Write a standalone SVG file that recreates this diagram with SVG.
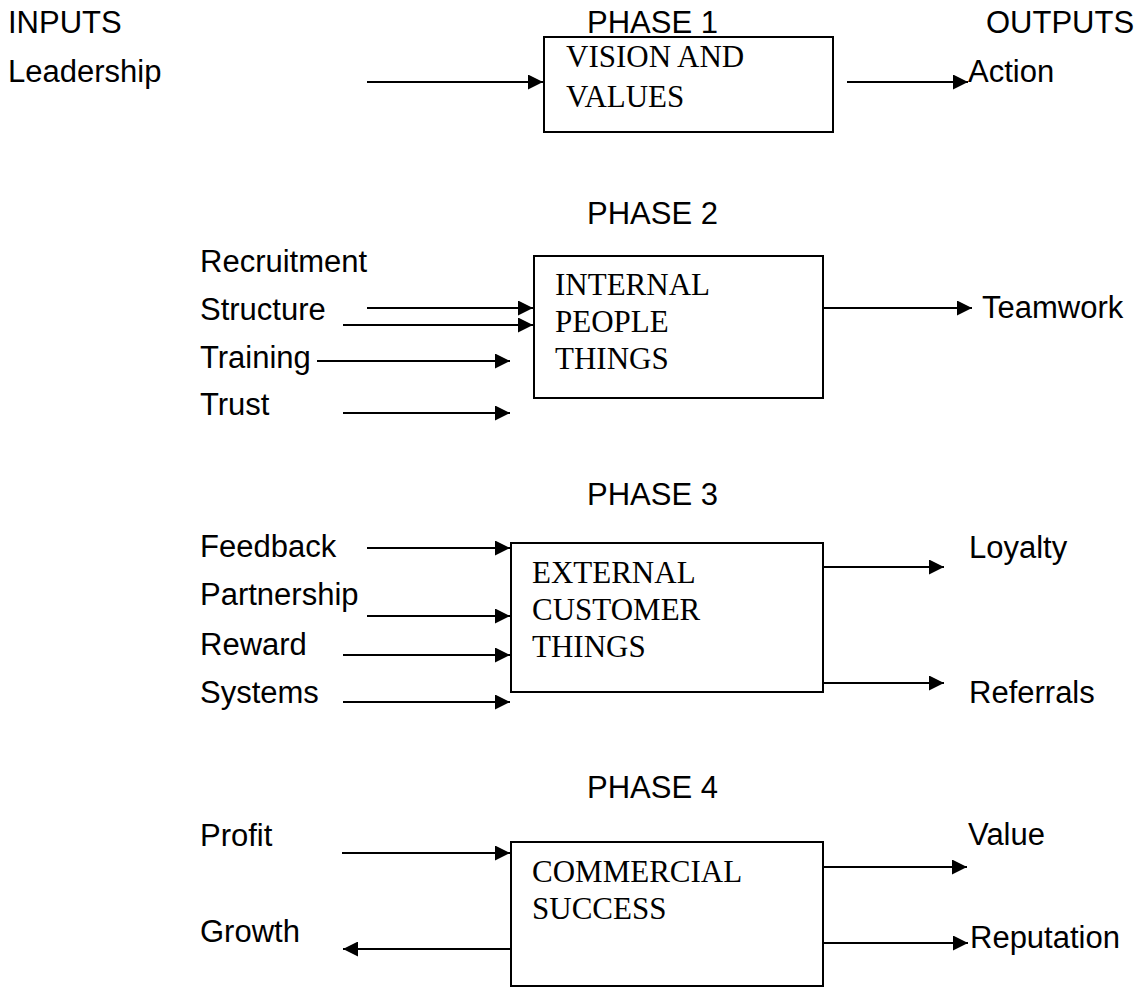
<svg xmlns="http://www.w3.org/2000/svg" width="1139" height="988" viewBox="0 0 1139 988">
  <defs>
    <marker id="arrow" markerUnits="userSpaceOnUse" markerWidth="16" markerHeight="15" refX="15" refY="7.5" orient="auto">
      <path d="M0,0 L15,7.5 L0,15 Z" fill="#000"/>
    </marker>
    <style>
      .lbl { font-family: "Liberation Sans", Arial, sans-serif; font-size: 31px; fill: #000; }
      .box { fill: #fff; stroke: #000; stroke-width: 2; }
      .boxtxt { font-family: "Liberation Serif", "Times New Roman", serif; font-size: 31px; fill: #000; }
      .conn line { stroke: #000; stroke-width: 2; marker-end: url(#arrow); }
    </style>
  </defs>
  <rect width="1139" height="988" fill="#fff"/>

  <!-- column headings -->
  <g id="headings">
    <text class="lbl" x="8" y="33">INPUTS</text>
    <text class="lbl" x="587" y="33">PHASE 1</text>
    <text class="lbl" x="986" y="33">OUTPUTS</text>
    <text class="lbl" x="587" y="224">PHASE 2</text>
    <text class="lbl" x="587" y="505">PHASE 3</text>
    <text class="lbl" x="587" y="798">PHASE 4</text>
  </g>

  <!-- phase 1 -->
  <g id="leadership"><text class="lbl" x="8" y="82">Leadership</text></g>
  <g id="vision-values">
    <rect class="box" x="544" y="37" width="289" height="95"/>
    <text class="boxtxt" x="566" y="67">VISION AND</text>
    <text class="boxtxt" x="566" y="107">VALUES</text>
  </g>
  <g id="action"><text class="lbl" x="968" y="82">Action</text></g>

  <!-- phase 2 -->
  <g id="recruitment"><text class="lbl" x="200" y="272">Recruitment</text></g>
  <g id="structure"><text class="lbl" x="200" y="320">Structure</text></g>
  <g id="training"><text class="lbl" x="200" y="368">Training</text></g>
  <g id="trust"><text class="lbl" x="200" y="415">Trust</text></g>
  <g id="internal-people">
    <rect class="box" x="534" y="256" width="289" height="142"/>
    <text class="boxtxt" x="555" y="295">INTERNAL</text>
    <text class="boxtxt" x="555" y="332">PEOPLE</text>
    <text class="boxtxt" x="555" y="369">THINGS</text>
  </g>
  <g id="teamwork"><text class="lbl" x="982" y="318">Teamwork</text></g>

  <!-- phase 3 -->
  <g id="feedback"><text class="lbl" x="200" y="557">Feedback</text></g>
  <g id="partnership"><text class="lbl" x="200" y="605">Partnership</text></g>
  <g id="reward"><text class="lbl" x="200" y="655">Reward</text></g>
  <g id="systems"><text class="lbl" x="200" y="703">Systems</text></g>
  <g id="external-customer">
    <rect class="box" x="511" y="543" width="312" height="149"/>
    <text class="boxtxt" x="532" y="583">EXTERNAL</text>
    <text class="boxtxt" x="532" y="620">CUSTOMER</text>
    <text class="boxtxt" x="532" y="657">THINGS</text>
  </g>
  <g id="loyalty"><text class="lbl" x="969" y="558">Loyalty</text></g>
  <g id="referrals"><text class="lbl" x="969" y="703">Referrals</text></g>

  <!-- phase 4 -->
  <g id="profit"><text class="lbl" x="200" y="846">Profit</text></g>
  <g id="growth"><text class="lbl" x="200" y="942">Growth</text></g>
  <g id="commercial-success">
    <rect class="box" x="511" y="842" width="312" height="144"/>
    <text class="boxtxt" x="532" y="882">COMMERCIAL</text>
    <text class="boxtxt" x="532" y="919">SUCCESS</text>
  </g>
  <g id="value"><text class="lbl" x="968" y="845">Value</text></g>
  <g id="reputation"><text class="lbl" x="970" y="948">Reputation</text></g>

  <!-- connectors -->
  <g id="connectors" class="conn">
    <line x1="367" y1="82" x2="543" y2="82"/>
    <line x1="847" y1="82" x2="968" y2="82"/>

    <line x1="367" y1="308" x2="533" y2="308"/>
    <line x1="343" y1="325" x2="533" y2="325"/>
    <line x1="317" y1="361" x2="510" y2="361"/>
    <line x1="343" y1="413" x2="510" y2="413"/>
    <line x1="823" y1="308" x2="972" y2="308"/>

    <line x1="367" y1="548" x2="510" y2="548"/>
    <line x1="367" y1="616" x2="510" y2="616"/>
    <line x1="343" y1="655" x2="510" y2="655"/>
    <line x1="343" y1="702" x2="510" y2="702"/>
    <line x1="823" y1="567" x2="944" y2="567"/>
    <line x1="823" y1="683" x2="944" y2="683"/>

    <line x1="342" y1="853" x2="510" y2="853"/>
    <line x1="511" y1="949" x2="343" y2="949"/>
    <line x1="823" y1="867" x2="967" y2="867"/>
    <line x1="823" y1="943" x2="968" y2="943"/>
  </g>
</svg>
